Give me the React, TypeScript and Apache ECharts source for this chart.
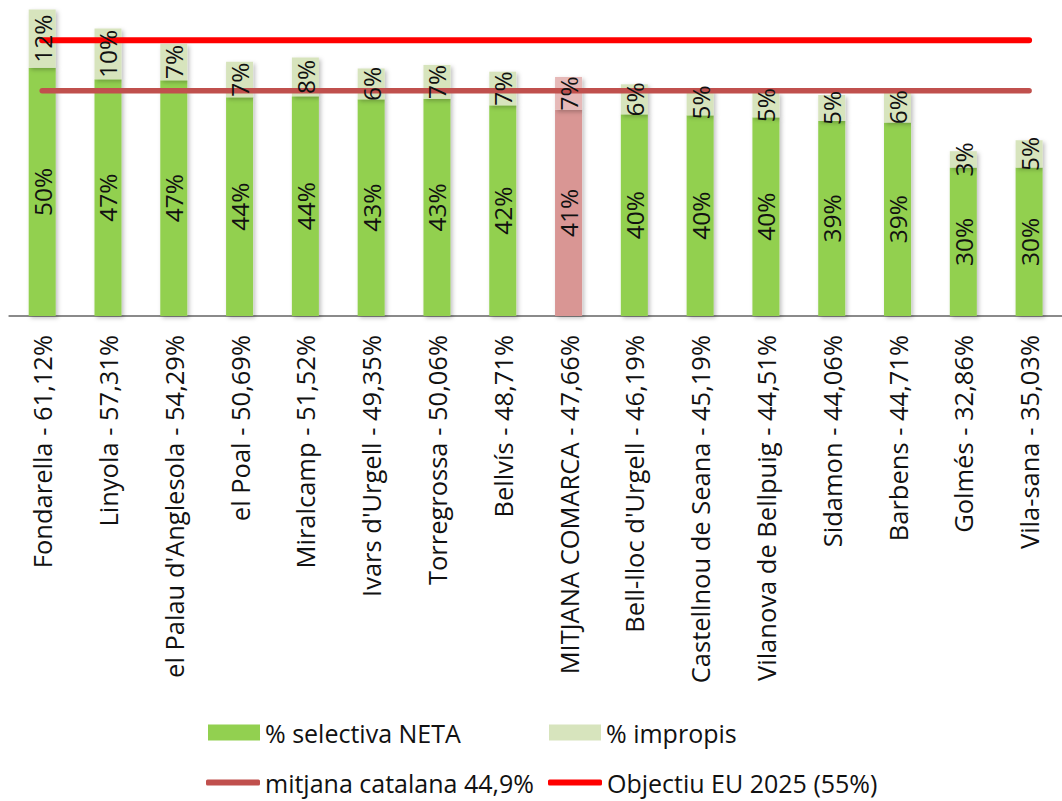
import React, { useEffect, useRef } from "react";
import * as echarts from "echarts";

const categories = [
  "Fondarella - 61,12%",
  "Linyola - 57,31%",
  "el Palau d'Anglesola - 54,29%",
  "el Poal - 50,69%",
  "Miralcamp - 51,52%",
  "Ivars d'Urgell - 49,35%",
  "Torregrossa - 50,06%",
  "Bellvís - 48,71%",
  "MITJANA COMARCA - 47,66%",
  "Bell-lloc d'Urgell - 46,19%",
  "Castellnou de Seana - 45,19%",
  "Vilanova de Bellpuig - 44,51%",
  "Sidamon - 44,06%",
  "Barbens - 44,71%",
  "Golmés - 32,86%",
  "Vila-sana - 35,03%",
];

const selectivaNeta = [49.5, 47.2, 47.0, 43.6, 43.8, 43.2, 43.3, 42.0, 41.1, 40.2, 40.0, 39.6, 38.9, 38.6, 29.6, 29.6];
const impropis = [11.62, 10.11, 7.29, 7.09, 7.72, 6.15, 6.76, 6.71, 6.56, 5.99, 5.19, 4.91, 5.16, 6.11, 3.26, 5.43];

const mitjanaCatalana = 44.9;
const objectiuEU = 55;

const highlightIndex = 8; // MITJANA COMARCA

const FONT = "'Open Sans', 'Noto Sans', sans-serif";

export default function App() {
  const ref = useRef<HTMLDivElement>(null);

  useEffect(() => {
    if (!ref.current) return;
    const chart = echarts.init(ref.current, undefined, { renderer: "svg" });

    const shadow = {
      shadowBlur: 4,
      shadowOffsetX: 2,
      shadowOffsetY: 2,
      shadowColor: "rgba(0,0,0,0.25)",
    };

    const labelCommon = {
      show: true,
      position: "inside" as const,
      rotate: 90,
      color: "#111",
      fontSize: 24.5,
      fontFamily: FONT,
      formatter: (p: any) => Math.round(p.value) + "%",
    };

    const legendCommon = {
      orient: "horizontal" as const,
      padding: 0,
      itemWidth: 52,
      itemHeight: 16,
      textStyle: { fontSize: 25, fontFamily: FONT, color: "#111" },
    };

    chart.setOption({
      animation: false,
      grid: { left: 9.3, top: 0, width: 1063.5, height: 316 },
      xAxis: {
        type: "category",
        data: categories,
        axisLine: { show: true, lineStyle: { color: "#8a8a8a", width: 2 } },
        axisTick: { show: false },
        axisLabel: {
          rotate: 90,
          interval: 0,
          margin: 19,
          fontSize: 25.5,
          fontFamily: FONT,
          color: "#111",
        },
      },
      yAxis: {
        type: "value",
        min: 0,
        max: 63,
        show: false,
        splitLine: { show: false },
      },
      legend: [
        { ...legendCommon, left: 208, top: 720, data: [{ name: "% selectiva NETA", icon: "rect" }] },
        { ...legendCommon, left: 549, top: 720, data: [{ name: "% impropis", icon: "rect" }] },
        { ...legendCommon, left: 206, top: 770, data: [{ name: "mitjana catalana 44,9%", icon: "roundRect" }], itemHeight: 6, itemWidth: 54 },
        { ...legendCommon, left: 548, top: 770, data: [{ name: "Objectiu EU 2025 (55%)", icon: "roundRect" }], itemHeight: 6, itemWidth: 54 },
      ],
      series: [
        {
          name: "% selectiva NETA",
          type: "bar",
          stack: "total",
          barWidth: 27,
          barGap: "-100%",
          z: 2,
          itemStyle: { color: "#92d050", ...shadow },
          data: selectivaNeta.map((v, i) =>
            i === highlightIndex ? { value: v, itemStyle: { color: "#d99694" } } : v
          ),
        },
        {
          name: "% impropis",
          type: "bar",
          stack: "total",
          barWidth: 27,
          barGap: "-100%",
          z: 2,
          itemStyle: { color: "#d7e4bd", ...shadow },
          data: impropis.map((v, i) =>
            i === highlightIndex ? { value: v, itemStyle: { color: "#e6b9b8" } } : v
          ),
        },
        {
          name: "mitjana catalana 44,9%",
          type: "line",
          symbol: "none",
          z: 5,
          itemStyle: { color: "#c0504d" },
          lineStyle: { color: "#c0504d", width: 5.5, cap: "round" },
          data: categories.map(() => mitjanaCatalana),
        },
        {
          name: "Objectiu EU 2025 (55%)",
          type: "line",
          symbol: "none",
          z: 5,
          itemStyle: { color: "#ff0000" },
          lineStyle: { color: "#ff0000", width: 6, cap: "round" },
          data: categories.map(() => objectiuEU),
        },
        {
          name: "labels-selectiva",
          type: "bar",
          stack: "labels",
          barWidth: 27,
          barGap: "-100%",
          z: 10,
          silent: true,
          itemStyle: { color: "rgba(0,0,0,0)" },
          label: labelCommon,
          data: selectivaNeta,
        },
        {
          name: "labels-impropis",
          type: "bar",
          stack: "labels",
          barWidth: 27,
          barGap: "-100%",
          z: 10,
          silent: true,
          itemStyle: { color: "rgba(0,0,0,0)" },
          label: labelCommon,
          data: impropis,
        },
      ],
    });

    return () => chart.dispose();
  }, []);

  return (
    <div
      ref={ref}
      style={{ position: "absolute", left: 0, top: 0, width: 1062, height: 801, background: "#fff" }}
    />
  );
}
